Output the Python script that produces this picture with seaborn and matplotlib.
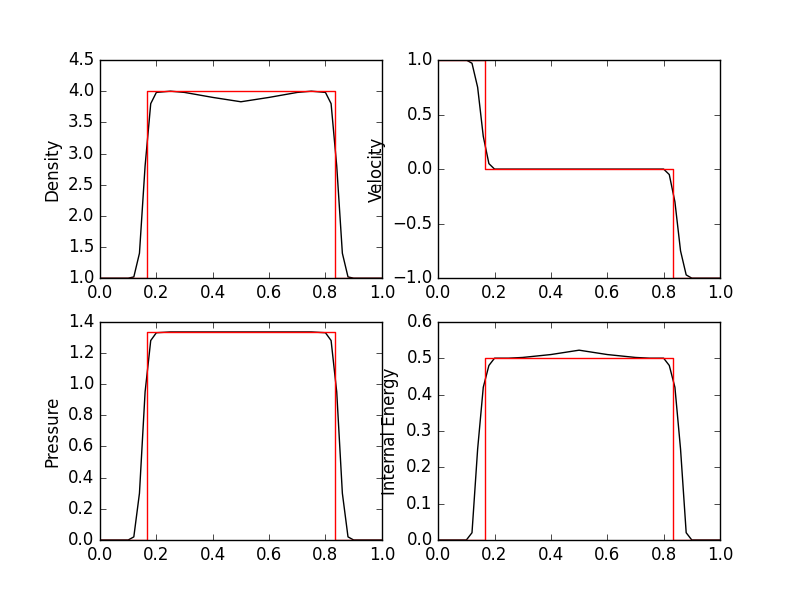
import matplotlib
matplotlib.use("Agg")
import matplotlib.pyplot as plt
import seaborn as sns

plt.style.use("classic")
plt.rcParams["figure.facecolor"] = "white"
plt.rcParams["savefig.facecolor"] = "white"

# numerical solution
x_num = [0.0, 0.10, 0.12, 0.14, 0.16, 0.18, 0.20, 0.25, 0.30, 0.40, 0.50,
         0.60, 0.70, 0.75, 0.80, 0.82, 0.84, 0.86, 0.88, 0.90, 1.0]
density_num = [1.0, 1.0, 1.02, 1.4, 2.8, 3.8, 3.98, 4.0, 3.98, 3.9, 3.83,
               3.9, 3.98, 4.0, 3.98, 3.8, 2.8, 1.4, 1.02, 1.0, 1.0]
velocity_num = [1.0, 1.0, 0.97, 0.75, 0.3, 0.05, 0.0, 0.0, 0.0, 0.0, 0.0,
                0.0, 0.0, 0.0, 0.0, -0.05, -0.3, -0.75, -0.97, -1.0, -1.0]
pressure_num = [0.0, 0.0, 0.02, 0.3, 0.95, 1.28, 1.33, 1.335, 1.335, 1.335, 1.335,
                1.335, 1.335, 1.335, 1.33, 1.28, 0.95, 0.3, 0.02, 0.0, 0.0]
energy_num = [0.0, 0.0, 0.02, 0.25, 0.42, 0.48, 0.5, 0.5, 0.502, 0.51, 0.522,
              0.51, 0.502, 0.5, 0.5, 0.48, 0.42, 0.25, 0.02, 0.0, 0.0]

# exact solution (shocks at 1/6 and 5/6)
x_ex = [0.0, 1/6, 1/6, 5/6, 5/6, 1.0]
density_ex = [1, 1, 4, 4, 1, 1]
velocity_ex = [1, 1, 0, 0, -1, -1]
pressure_ex = [0, 0, 4/3, 4/3, 0, 0]
energy_ex = [0, 0, 0.5, 0.5, 0, 0]

panels = [
    ("Density", density_num, density_ex, (1.0, 4.5)),
    ("Velocity", velocity_num, velocity_ex, (-1.0, 1.0)),
    ("Pressure", pressure_num, pressure_ex, (0.0, 1.4)),
    ("Internal Energy", energy_num, energy_ex, (0.0, 0.6)),
]

fig, axes = plt.subplots(2, 2, figsize=(8, 6), dpi=100)
for ax, (name, num, ex, ylim) in zip(axes.flat, panels):
    sns.lineplot(x=x_num, y=num, ax=ax, color="black", sort=False, estimator=None)
    sns.lineplot(x=x_ex, y=ex, ax=ax, color="red", sort=False, estimator=None)
    ax.set_xlim(0, 1)
    ax.set_ylim(*ylim)
    ax.set_ylabel(name)
fig.savefig("out.png", dpi=100)
